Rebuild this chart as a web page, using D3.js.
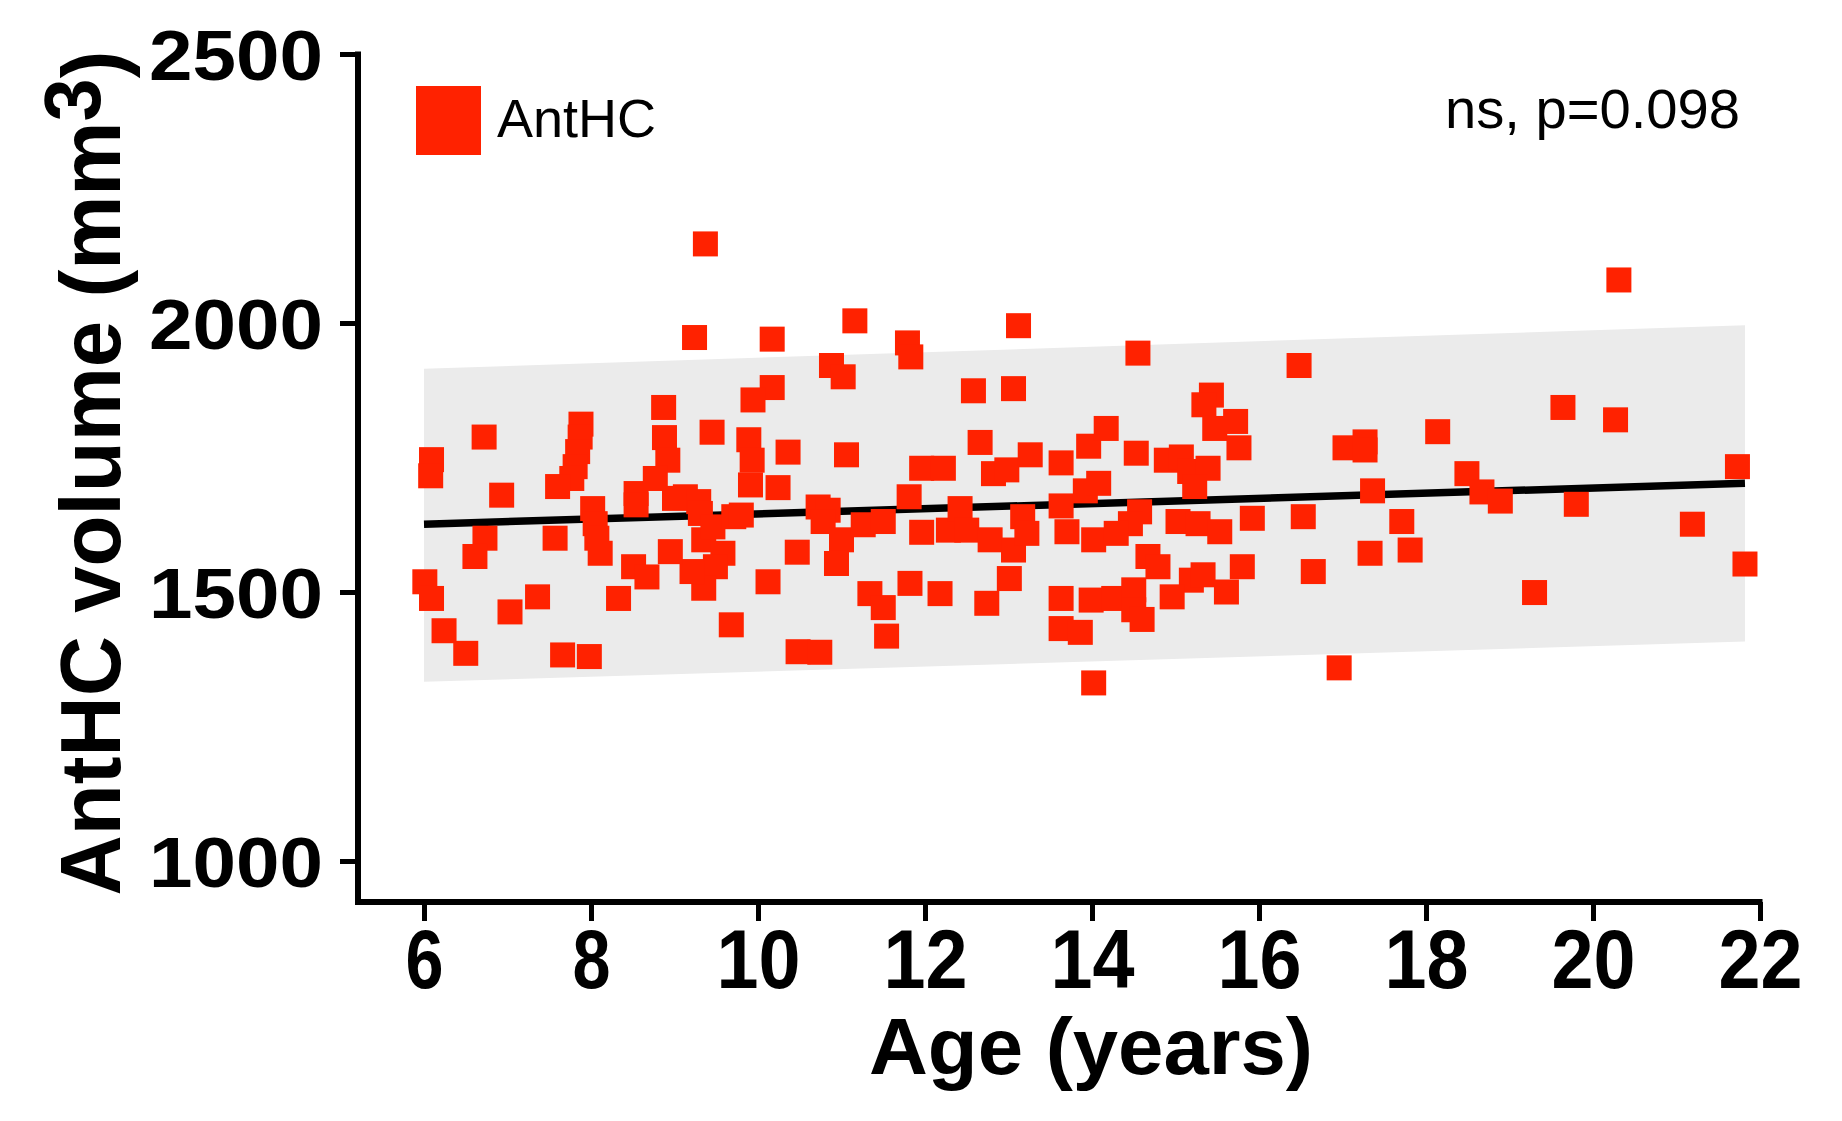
<!DOCTYPE html>
<html lang="en">

<head>
    <meta charset="UTF-8">
    <title>AntHC volume by age</title>
    <script src="https://d3js.org/d3.v7.min.js"></script>
    <style>
        body,
        html {
            margin: 0px;
            background: white;
        }

        text {
            font-family: "Liberation Sans", Arial, sans-serif;
        }
    </style>
</head>

<body>
    <div id="chart"></div>

    <script>
        // age (years) of each subject
        const ages = [
            9.37, 9.24, 8.87, 9.45, 6.72, 6.09, 6.08, 6.93, 7.88, 7.87, 7.84, 7.81, 7.77, 7.60,
            6.73, 6.61, 7.57, 8.02, 8.05, 8.07, 8.11, 8.88, 8.92, 8.54, 8.54, 8.77, 9.00, 9.13,
            9.29, 9.31, 9.35, 9.46, 9.58, 9.49, 9.35, 9.21, 8.95, 8.51, 8.67, 8.33, 9.71, 9.80,
            9.68, 6.01, 6.09, 6.24, 6.50, 7.03, 7.36, 7.66, 7.98, 9.89, 9.93, 9.91,
            10.17, 11.16, 11.79, 11.83, 13.12, 10.88, 11.02, 10.17, 9.94, 12.58, 13.06, 10.36,
            11.06, 12.66, 11.96, 12.22, 12.82, 12.98, 13.26, 13.63, 13.96, 14.17, 10.24, 10.72,
            10.84, 10.78, 11.00, 10.94, 11.26, 11.50, 11.81, 11.96, 12.28, 12.42, 12.50, 12.78,
            13.06, 13.17, 13.22, 13.63, 13.70, 13.92, 14.02, 10.47, 10.12, 11.34, 11.50, 11.82,
            12.18, 13.01, 12.74, 13.63, 13.99, 13.63, 13.86, 11.54, 10.48, 10.74, 14.02,
            14.55, 16.48, 15.43, 15.34, 15.47, 15.72, 15.76, 14.53, 14.89, 15.07, 15.17, 15.39,
            15.23, 14.08, 14.57, 14.46, 14.29, 15.03, 15.27, 15.53, 15.92, 16.53, 17.36, 17.27,
            17.03, 17.27, 17.71, 17.81, 17.33, 16.65, 15.80, 14.67, 14.79, 15.19, 15.33, 15.61,
            14.96, 14.26, 14.50, 14.50, 14.60, 16.96,
            20.31, 19.64, 20.27, 18.14, 21.73, 18.49, 18.67, 18.89, 19.80, 21.19, 21.82, 19.30
        ]

        // AntHC volume (mm3) for the same subjects
        const volumes = [
            2147, 1973, 1843, 1797, 1788, 1746, 1716, 1680, 1812, 1788, 1761, 1733, 1711, 1696,
            1600, 1566, 1600, 1655, 1627, 1600, 1572, 1787, 1745, 1683, 1662, 1711, 1674, 1677,
            1668, 1646, 1597, 1621, 1572, 1547, 1507, 1538, 1575, 1547, 1528, 1488, 1640, 1643,
            1439, 1519, 1488, 1428, 1386, 1463, 1491, 1383, 1380, 1783, 1745, 1699,
            1970, 2004, 1963, 1937, 1995, 1921, 1900, 1880, 1857, 1874, 1878, 1760,
            1755, 1778, 1730, 1730, 1720, 1727, 1755, 1740, 1771, 1804, 1694, 1658,
            1652, 1631, 1597, 1553, 1625, 1631, 1677, 1611, 1615, 1655, 1615, 1597,
            1578, 1640, 1609, 1660, 1612, 1688, 1597, 1574, 1519, 1497, 1471, 1516,
            1497, 1525, 1479, 1488, 1485, 1432, 1425, 1418, 1389, 1388, 1331,
            1944, 1921, 1866, 1848, 1804, 1817, 1768, 1758, 1745, 1751, 1724, 1730,
            1696, 1702, 1649, 1627, 1609, 1631, 1627, 1612, 1637, 1640, 1688, 1779,
            1768, 1764, 1631, 1578, 1572, 1538, 1547, 1566, 1547, 1522, 1532, 1500,
            1491, 1488, 1504, 1467, 1449, 1359,
            2080, 1843, 1820, 1798, 1733, 1720, 1686, 1669, 1663, 1626, 1552, 1499
        ]

        // fitted line and its grey band, read at both ends
        const fitAges = [6.0, 21.82]
        const fitVolumes = [1626, 1702]
        const bandLower = [1333, 1408]
        const bandUpper = [1915, 1996]

        const xTicks = [6, 8, 10, 12, 14, 16, 18, 20, 22]
        const yTicks = [1000, 1500, 2000, 2500]

        const seriesName = "AntHC"
        const statLabel = "ns, p=0.098"

        const width = 1842
        const height = 1121
        const red = "#ff2200"

        const svg = d3.select("#chart")
            .append("svg")
            .attr("width", width)
            .attr("height", height)

        const x = d3.scaleLinear().domain([6, 22]).range([424, 1760])
        const y = d3.scaleLinear().domain([1000, 2500]).range([861, 54])

        const axisX = 358   // where the y axis line sits
        const axisY = 902   // where the x axis line sits

        // grey band
        const bandData = fitAges.map((a, i) => ({ age: a, lo: bandLower[i], hi: bandUpper[i] }))
        svg.append("path")
            .datum(bandData)
            .attr("d", d3.area()
                .x(d => x(d.age))
                .y0(d => y(d.lo))
                .y1(d => y(d.hi)))
            .attr("fill", "#ebebeb")

        // fit line
        svg.append("path")
            .datum(fitAges.map((a, i) => [a, fitVolumes[i]]))
            .attr("d", d3.line()
                .x(d => x(d[0]))
                .y(d => y(d[1])))
            .attr("fill", "none")
            .attr("stroke", "black")
            .attr("stroke-width", 7.5)

        // the subjects, as squares
        const size = 25
        svg.append("g")
            .selectAll("rect")
            .data(ages.map((a, i) => ({ age: a, vol: volumes[i] })))
            .join("rect")
            .attr("x", d => x(d.age) - size / 2)
            .attr("y", d => y(d.vol) - size / 2)
            .attr("width", size)
            .attr("height", size)
            .attr("fill", red)

        // y axis
        const gy = svg.append("g")
            .attr("transform", `translate(${axisX},0)`)
            .call(d3.axisLeft(y).tickValues(yTicks).tickFormat(d3.format("d")).tickSize(18).tickPadding(17))
        gy.select(".domain").remove()
        gy.selectAll(".tick line").attr("stroke", "black").attr("stroke-width", 5)
        gy.selectAll(".tick text")
            .attr("fill", "black")
            .attr("dy", "0.36em")
            .style("font-size", "70px")
            .style("font-weight", "bold")
            .attr("textLength", 174)
            .attr("lengthAdjust", "spacingAndGlyphs")

        // x axis
        const gx = svg.append("g")
            .attr("transform", `translate(0,${axisY})`)
            .call(d3.axisBottom(x).tickValues(xTicks).tickSize(19).tickPadding(7))
        gx.select(".domain").remove()
        gx.selectAll(".tick line").attr("stroke", "black").attr("stroke-width", 5)
        gx.selectAll(".tick text")
            .attr("fill", "black")
            .style("font-size", "84px")
            .style("font-weight", "bold")
            .attr("textLength", d => String(d).length === 1 ? 38 : 84)
            .attr("lengthAdjust", "spacingAndGlyphs")

        // axis lines (L shape)
        svg.append("path")
            .attr("d", `M${axisX},${y(2500) - 2.5}V${axisY}H${x(22) + 2.5}`)
            .attr("fill", "none")
            .attr("stroke", "black")
            .attr("stroke-width", 6)

        // axis titles
        svg.append("text")
            .attr("x", 1091)
            .attr("y", 1074)
            .attr("text-anchor", "middle")
            .style("font-size", "79px")
            .style("font-weight", "bold")
            .attr("textLength", 444)
            .attr("lengthAdjust", "spacingAndGlyphs")
            .text("Age (years)")

        const yTitle = svg.append("text")
            .attr("transform", "translate(120,473) rotate(-90)")
            .attr("text-anchor", "middle")
            .style("font-size", "86px")
            .style("font-weight", "bold")
            .attr("textLength", 845)
            .attr("lengthAdjust", "spacingAndGlyphs")
        yTitle.append("tspan").text("AntHC volume (mm")
        yTitle.append("tspan").attr("dy", "-0.25em").style("font-size", "80px").text("3")
        yTitle.append("tspan").attr("dy", "0.25em").text(")")

        // legend
        svg.append("rect")
            .attr("x", 416)
            .attr("y", 86)
            .attr("width", 65)
            .attr("height", 69)
            .attr("fill", red)
        svg.append("text")
            .attr("x", 497)
            .attr("y", 137)
            .style("font-size", "54px")
            .text(seriesName)

        // stats note
        svg.append("text")
            .attr("x", 1740)
            .attr("y", 128)
            .attr("text-anchor", "end")
            .style("font-size", "56px")
            .attr("textLength", 295)
            .attr("lengthAdjust", "spacingAndGlyphs")
            .text(statLabel)
    </script>
</body>

</html>
